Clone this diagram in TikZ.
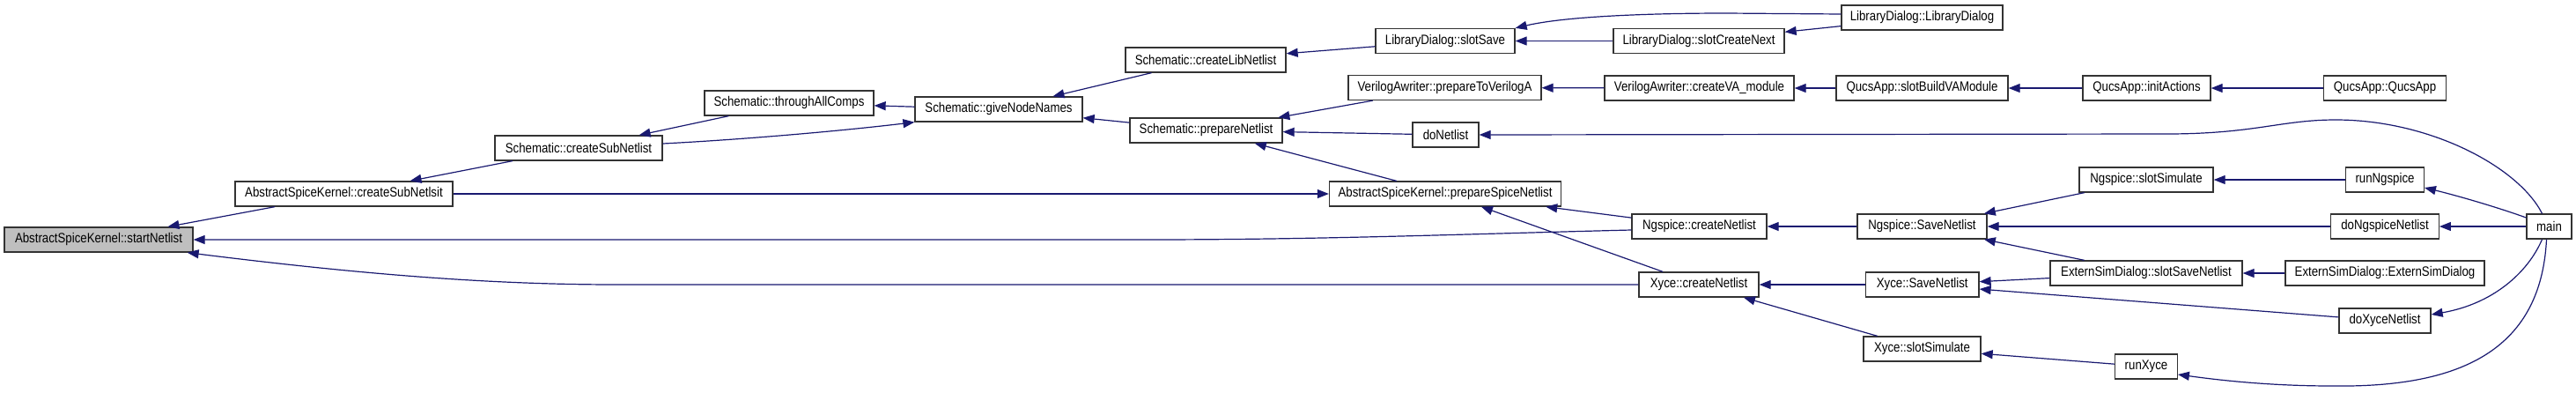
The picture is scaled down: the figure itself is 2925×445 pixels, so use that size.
\documentclass[tikz,border=0pt]{standalone}
\usepackage{fontspec}
\setmainfont{Liberation Sans}[FakeStretch=0.86]
\usetikzlibrary{arrows.meta}
\definecolor{edgecol}{RGB}{25,25,112}
\definecolor{nodegray}{RGB}{191,191,191}
\begin{document}
\begin{tikzpicture}[x=1pt,y=-1pt,
  box/.style={draw=black!80, line width=1.3pt, fill=white, minimum height=28pt, inner sep=0pt,
    font=\fontsize{15.4}{16}\selectfont, anchor=center},
  edge/.style={draw=edgecol, line width=1.2pt, {Triangle[length=13pt,width=10pt]}-}]
\useasboundingbox (0,0) rectangle (2925,445);
% nodes
\node[box, fill=nodegray, minimum width=214pt] (start) at (112,272) {AbstractSpiceKernel::startNetlist};
\node[box, minimum width=247pt] (cSubA) at (390.5,220) {AbstractSpiceKernel::createSubNetlsit};
\node[box, minimum width=190pt] (schCSub) at (657,168) {Schematic::createSubNetlist};
\node[box, minimum width=192pt] (through) at (896,117) {Schematic::throughAllComps};
\node[box, minimum width=190pt] (give) at (1134,124) {Schematic::giveNodeNames};
\node[box, minimum width=182pt] (libNet) at (1369,68) {Schematic::createLibNetlist};
\node[box, minimum width=173pt] (prepNet) at (1369.5,148) {Schematic::prepareNetlist};
\node[box, minimum width=158pt] (slotSave) at (1641,46.5) {LibraryDialog::slotSave};
\node[box, minimum width=219pt] (prepVA) at (1640.5,99.5) {VerilogAwriter::prepareToVerilogA};
\node[box, minimum width=75pt] (doNetlist) at (1641.5,153) {doNetlist};
\node[box, minimum width=263pt] (prepSpice) at (1641,220) {AbstractSpiceKernel::prepareSpiceNetlist};
\node[box, minimum width=194pt] (createNext) at (1929,46.5) {LibraryDialog::slotCreateNext};
\node[box, minimum width=183pt] (libDlg) at (2182.5,20) {LibraryDialog::LibraryDialog};
\node[box, minimum width=215pt] (createVA) at (1929.5,100) {VerilogAwriter::createVA\_module};
\node[box, minimum width=195pt] (buildVA) at (2182.5,100) {QucsApp::slotBuildVAModule};
\node[box, minimum width=153pt] (ngCreate) at (1929.5,257) {Ngspice::createNetlist};
\node[box, minimum width=147pt] (ngSave) at (2182.5,257) {Ngspice::SaveNetlist};
\node[box, minimum width=136pt] (xyCreate) at (1929,323) {Xyce::createNetlist};
\node[box, minimum width=128.5pt] (xySave) at (2182.7,323) {Xyce::SaveNetlist};
\node[box, minimum width=133pt] (xySim) at (2182.5,396) {Xyce::slotSimulate};
\node[box, minimum width=145pt] (initAct) at (2437.5,100) {QucsApp::initActions};
\node[box, minimum width=138.5pt] (qucsApp) at (2708,100) {QucsApp::QucsApp};
\node[box, minimum width=152pt] (ngSim) at (2437,204) {Ngspice::slotSimulate};
\node[box, minimum width=88.5pt] (runNg) at (2708,204) {runNgspice};
\node[box, minimum width=122.5pt] (doNg) at (2708,257) {doNgspiceNetlist};
\node[box, minimum width=51pt] (main) at (2894.5,257) {main};
\node[box, minimum width=218pt] (extSave) at (2437,310) {ExternSimDialog::slotSaveNetlist};
\node[box, minimum width=226pt] (extDlg) at (2708,310) {ExternSimDialog::ExternSimDialog};
\node[box, minimum width=104pt] (doXy) at (2708,364) {doXyceNetlist};
\node[box, minimum width=70.5pt] (runXy) at (2437,416) {runXyce};
% edges (arrow at callee)
\draw[edge] (start) -- (cSubA);
\draw[edge] (start.east) -- (1300,272) .. controls (1500,272) and (1650,266) .. ([yshift=-4pt]ngCreate.west);
\draw[edge] ([xshift=-7pt]start.south east) .. controls (400,310) and (550,323) .. (700,323) -- (xyCreate.west);
\draw[edge] (cSubA) -- (schCSub);
\draw[edge] (prepSpice) -- (cSubA);
\draw[edge] (schCSub) -- (through);
\draw[edge] (give.south west) .. controls (960,148) and (850,158) .. ([yshift=5pt]schCSub.east);
\draw[edge] (through) -- (give);
\draw[edge] (give) -- (libNet);
\draw[edge] (give) -- (prepNet);
\draw[edge] (libNet) -- (slotSave);
\draw[edge] (prepNet) -- (prepVA);
\draw[edge] (prepNet) -- (doNetlist);
\draw[edge] (prepNet) -- (prepSpice);
\draw[edge] (slotSave) -- (createNext);
\draw[edge] (slotSave.north east) .. controls (1780,18) and (1880,15) .. (1960,15) -- ([yshift=4pt]libDlg.west);
\draw[edge] (createNext) -- (libDlg);
\draw[edge] (prepVA) -- (createVA);
\draw[edge] (createVA) -- (buildVA);
\draw[edge] (buildVA) -- (initAct);
\draw[edge] (initAct) -- (qucsApp);
\draw[edge] (doNetlist.east) -- (2460,152) .. controls (2560,152) and (2590,136) .. (2652,136) .. controls (2760,136) and (2860,190) .. ([xshift=-8pt]main.north);
\draw[edge] (prepSpice) -- (ngCreate);
\draw[edge] (prepSpice) -- (xyCreate);
\draw[edge] (ngCreate) -- (ngSave);
\draw[edge] (xyCreate) -- (xySave);
\draw[edge] (xyCreate) -- (xySim);
\draw[edge] (ngSave) -- (ngSim);
\draw[edge] (ngSave) -- (doNg);
\draw[edge] (ngSave) -- (extSave);
\draw[edge] (xySave) -- (extSave);
\draw[edge] (xySave) -- (doXy);
\draw[edge] (xySim) -- (runXy);
\draw[edge] (ngSim) -- (runNg);
\draw[edge] ([yshift=-9pt]runNg.east) .. controls (2790,222) and (2835,235) .. ([yshift=10pt]main.west);
\draw[edge] (doNg) -- (main);
\draw[edge] ([yshift=7pt]doXy.east) .. controls (2830,345) and (2870,310) .. ([xshift=-8pt]main.south);
\draw[edge] ([yshift=-9pt]runXy.east) .. controls (2510,430) and (2570,438) .. (2648,438) .. controls (2790,440) and (2885,400) .. ([xshift=-3pt]main.south);
\draw[edge] (extSave) -- (extDlg);
\end{tikzpicture}
\end{document}
